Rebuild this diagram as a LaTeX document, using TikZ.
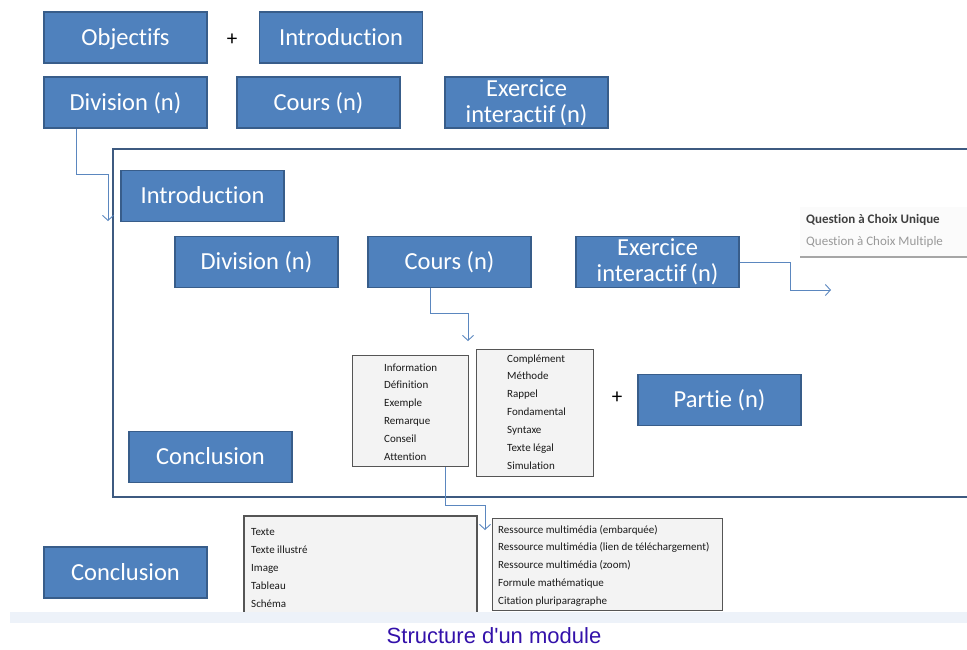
\documentclass[tikz,border=0pt]{standalone}
\usepackage{fontspec}
\setmainfont{Carlito}[Ligatures=NoCommon]
\newfontfamily\capfont{Liberation Sans}
\usetikzlibrary{arrows.meta}
\definecolor{boxblue}{HTML}{4F81BD}
\definecolor{boxedge}{HTML}{385D8A}
\definecolor{framecol}{HTML}{3D5A80}
\definecolor{linkcol}{HTML}{5B87BF}
\definecolor{listedge}{HTML}{555555}
\definecolor{listfill}{HTML}{F3F3F3}
\definecolor{bandcol}{HTML}{EDF2F9}
\definecolor{capcol}{HTML}{3311AA}
\tikzset{
  blk/.style={draw=boxedge, line width=1.5pt, fill=boxblue, text=white,
    minimum width=163pt, minimum height=51pt, inner sep=0pt, align=center,
    font=\fontsize{24.5}{26}\selectfont},
  oneline/.style={blk, text height=17pt, text depth=2pt},
  listbox/.style={draw=listedge, line width=1.3pt, fill=listfill},
  item/.style={anchor=base west, inner sep=0pt, text=black!90,
    font=\fontsize{11}{12}\selectfont},
  link/.style={draw=linkcol, line width=0.9pt,
    -{Straight Barb[length=5pt,width=11pt,line width=0.9pt]}},
  plus/.style={font=\fontsize{21}{22}\selectfont, inner sep=0pt}
}
\begin{document}
\begin{tikzpicture}[x=1pt,y=-1pt]
\useasboundingbox (0,0) rectangle (967,649);

% module head
\node[oneline] (obj) at (125.5,37.5) {Objectifs};
\node[plus] (p1) at (232,40) {+};
\node[oneline] (intro) at (341,37.5) {Introduction};
\node[oneline] (div) at (125.5,102.5) {Division (n)};
\node[oneline] (cours) at (318.5,102.5) {Cours (n)};
\node[blk] (exo) at (526.5,102.5) {Exercice\\interactif\,(n)};

% division frame, open on the right
\draw[draw=framecol, line width=2.6pt] (975,149) -| (113,497) -- (975,497);

\coordinate (divin) at (108,221);
\draw[link] ([xshift=33pt]div.south west) |- (108,174) -- (divin);

% content of a division
\node[oneline] (intro2) at (202.5,196) {Introduction};
\node[oneline] (div2) at (256.5,262) {Division (n)};
\node[oneline] (cours2) at (449.5,262) {Cours (n)};
\node[blk] (exo2) at (657.5,262) {Exercice\\interactif\,(n)};
\node[oneline] (concl2) at (210.5,457) {Conclusion};
\node[plus] (p2) at (617,398) {+};
\node[oneline] (partie) at (719.5,400) {Partie (n)};

% exercise type menu
\fill[white!97!gray] (800,207) rectangle (967,256);
\draw[draw=gray!70, line width=1.6pt] (800,257) -- (967,257);
\node[item, font=\fontsize{13}{14}\selectfont\bfseries, text=black!75] (qcu) at (806,223) {Question à Choix Unique};
\node[item, font=\fontsize{13}{14}\selectfont, text=black!40] (qcm) at (806,245) {Question à Choix Multiple};

\coordinate (exoout) at (831,290);
\draw[link] (exo2.east) -| (790,290) -- (exoout);

% course elements
\node[listbox, minimum width=116pt, minimum height=111pt, inner sep=0pt, anchor=north west] (lst1) at (352,355) {};
\node[listbox, minimum width=117pt, minimum height=127pt, inner sep=0pt, anchor=north west] (lst2) at (476,349) {};
\foreach \t [count=\i] in {Information,Définition,Exemple,Remarque,Conseil,Attention}
  \node[item] (la\i) at (384,{371+17.8*(\i-1)}) {\t};
\foreach \t [count=\i] in {Complément,Méthode,Rappel,Fondamental,Syntaxe,Texte légal,Simulation}
  \node[item] (lb\i) at (507,{362+17.9*(\i-1)}) {\t};

\draw[link] ([xshift=-19.5pt]cours2.south) |- (468,313) -- (468,341);

% resources
\draw[listbox] (244,516) rectangle (477,620);
\node[listbox, minimum width=230pt, minimum height=92pt, inner sep=0pt, anchor=north west] (lst4) at (492,518) {};
\foreach \t [count=\i] in {Texte,Texte illustré,Image,Tableau,Schéma}
  \node[item] (lc\i) at (251,{535+18*(\i-1)}) {\t};
\foreach \t [count=\i] in {Ressource multimédia (embarquée),Ressource multimédia (lien de téléchargement),Ressource multimédia (zoom),Formule mathématique,Citation pluriparagraphe}
  \node[item] (ld\i) at (498,{533+17.8*(\i-1)}) {\t};

\coordinate (resin) at (485,530);
\draw[link] ([xshift=35pt]lst1.south) |- (485,505) -- (resin);

\node[oneline] (concl) at (125.5,572.5) {Conclusion};

% footer band and caption
\fill[bandcol] (10,612) rectangle (967,623);
\node[text=capcol, font=\capfont\fontsize{22}{24}\selectfont, inner sep=0pt] (cap) at (494,636) {Structure d'un module};
\end{tikzpicture}
\end{document}
